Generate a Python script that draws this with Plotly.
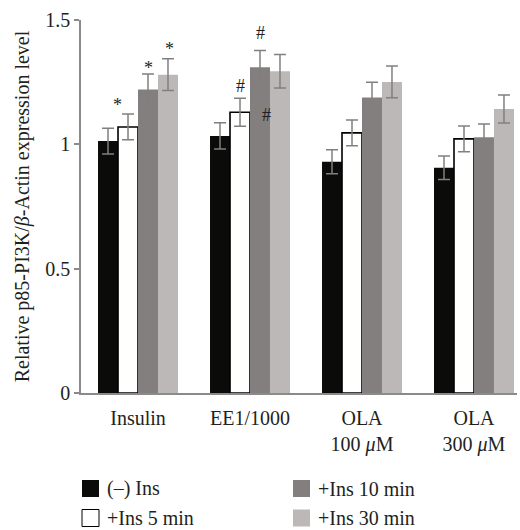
import plotly.graph_objects as go

categories = ["Insulin", "EE1/1000", "OLA<br>100 <i>μ</i>M", "OLA<br>300 <i>μ</i>M"]
series_names = ["(–) Ins", "+Ins 5 min", "+Ins 10 min", "+Ins 30 min"]

neg_ins = [1.013, 1.034, 0.930, 0.906]
ins_5 = [1.070, 1.129, 1.046, 1.022]
ins_10 = [1.221, 1.310, 1.188, 1.028]
ins_30 = [1.280, 1.294, 1.251, 1.142]

neg_ins_err = [0.052, 0.053, 0.048, 0.047]
ins_5_err = [0.052, 0.056, 0.052, 0.052]
ins_10_err = [0.062, 0.067, 0.062, 0.054]
ins_30_err = [0.064, 0.067, 0.064, 0.056]

y_ticks = [0, 0.5, 1, 1.5]
y_tick_labels = ["0", "0.5", "1", "1.5"]

# significance marks: (category index, series index, symbol)
sig_marks = [(0, 1, "*"), (0, 2, "*"), (0, 3, "*"), (1, 1, "#"), (1, 2, "#"), (1, 3, "#")]

values = [neg_ins, ins_5, ins_10, ins_30]
errors = [neg_ins_err, ins_5_err, ins_10_err, ins_30_err]

fill_colors = ["#0b0b09", "#ffffff", "#837f7e", "#bcb8b7"]
line_colors = ["#0b0b09", "#000000", "#837f7e", "#bcb8b7"]
line_widths = [0, 1.6, 0, 0]

FONT = "Liberation Serif, Times New Roman, serif"
TXT = "#231f20"
AXC = "#8a8a8a"

x_idx = list(range(len(categories)))
fig = go.Figure()
for k in range(4):
    fig.add_trace(go.Bar(
        x=x_idx, y=values[k], name=series_names[k], showlegend=False,
        marker=dict(color=fill_colors[k], line=dict(color=line_colors[k], width=line_widths[k])),
        error_y=dict(type="data", array=errors[k], color="#808080", thickness=1.5, width=6),
    ))

bargap = 0.286
bar_w = (1 - bargap) / 4
offsets = [(-1.5 + k) * bar_w for k in range(4)]

# annotation tweaks (px) for the marks, relative to bar center / error cap
tweak = {
    (0, 1): (-11, 12), (0, 2): (0, 9), (0, 3): (2, 13),
    (1, 1): (0, 12), (1, 2): (0, 18), (1, 3): (-13, None),
}
for (c, s, sym) in sig_marks:
    dx, dy = tweak[(c, s)]
    top = values[s][c] + errors[s][c]
    if dy is None:
        y = values[s][c] - 0.175
        ys = 0
    else:
        y = top
        ys = dy + (-3 if sym == "*" else 0)
    fig.add_annotation(
        x=c + offsets[s], y=y, xref="x", yref="y", text=sym, showarrow=False,
        xshift=dx, yshift=ys, yanchor="middle",
        font=dict(family=FONT, size=18, color=TXT),
    )

# manual legend (2 columns, column-major order like the reference)
L, R, T, B = 81, 3, 20, 137
W, H = 520 - L - R, 530 - T - B
def px_x(p):
    return (p - L) / W
def px_y(p):
    return (530 - B - p) / H

legend_pos = [(82, 488.5), (82, 518), (293, 488.5), (293, 518)]
for k in range(4):
    x0, yc = legend_pos[k]
    fig.add_shape(type="rect", xref="paper", yref="paper",
                  x0=px_x(x0), x1=px_x(x0 + 17), y0=px_y(yc + 8.5), y1=px_y(yc - 8.5),
                  fillcolor=fill_colors[k],
                  line=dict(color="#000000" if k == 1 else fill_colors[k], width=1 if k == 1 else 0))
    fig.add_annotation(xref="paper", yref="paper", x=px_x(x0 + 23), y=px_y(yc),
                       text=series_names[k], showarrow=False, xanchor="left", yanchor="middle",
                       font=dict(family=FONT, size=20, color=TXT))

fig.update_layout(
    width=520, height=530,
    margin=dict(l=L, r=R, t=T, b=B, pad=0),
    paper_bgcolor="white", plot_bgcolor="white",
    barmode="group", bargap=bargap, bargroupgap=0,
    font=dict(family=FONT, size=20, color=TXT),
    showlegend=False,
)
fig.update_xaxes(
    range=[-0.509, 3.384], tickvals=x_idx, ticktext=categories,
    showline=True, linecolor=AXC, linewidth=1.5, ticks="", showgrid=False, zeroline=False,
    tickfont=dict(family=FONT, size=20, color=TXT), ticklabelstandoff=6,
)
fig.update_yaxes(
    range=[0, 1.5], tickvals=y_ticks, ticktext=y_tick_labels,
    showline=True, linecolor=AXC, linewidth=1.5, ticks="outside", ticklen=5, tickcolor=AXC,
    tickwidth=1.5, showgrid=False, zeroline=False,
    tickfont=dict(family=FONT, size=20, color=TXT),
    title=dict(text="Relative p85-PI3K/<i>β</i>-Actin expression level",
               font=dict(family=FONT, size=20, color=TXT), standoff=10),
)

fig.write_html("out.html", config={"displayModeBar": False},
               post_script="document.body.style.margin='0';document.body.style.overflow='hidden';")
